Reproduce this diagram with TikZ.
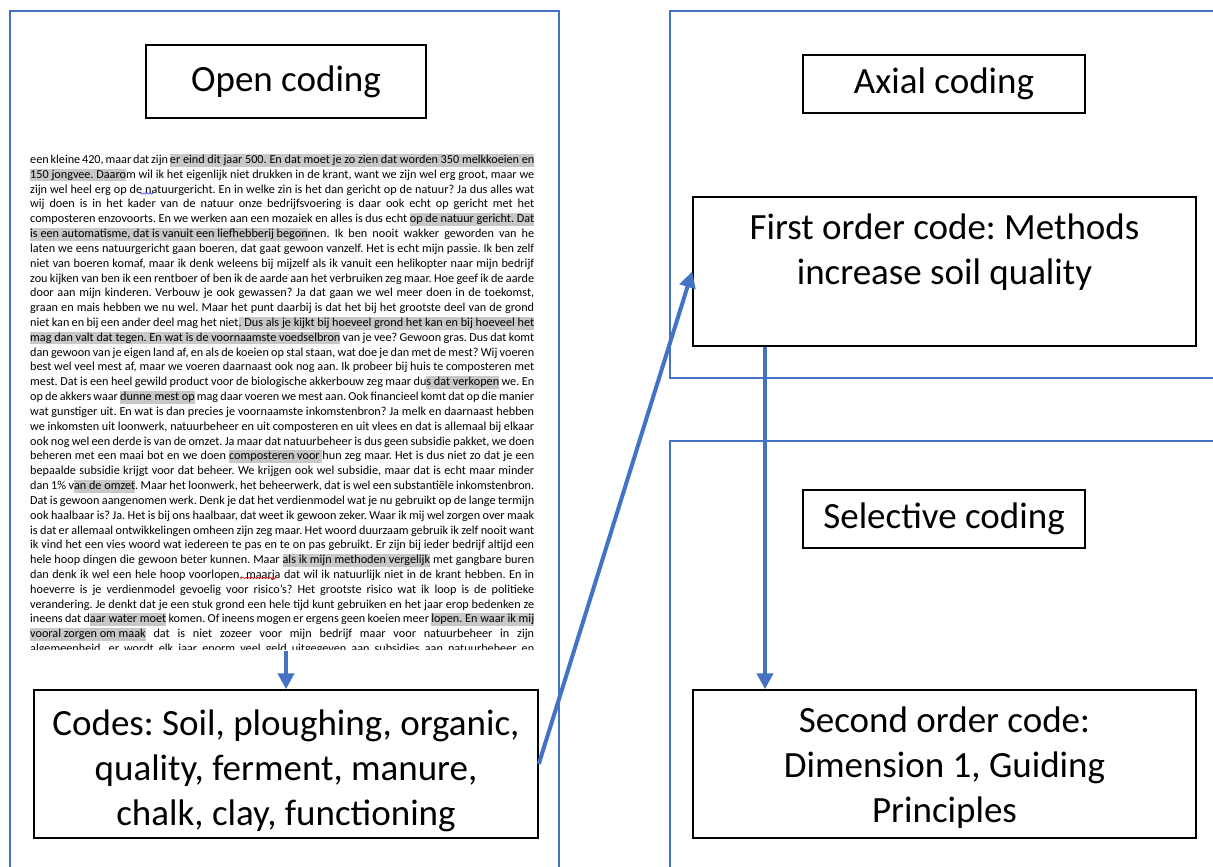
\documentclass[tikz,border=0pt]{standalone}
\usepackage{fontspec}
\setmainfont{Carlito}
\usetikzlibrary{arrows.meta,decorations.pathmorphing}
\definecolor{pblue}{RGB}{68,114,196}
\definecolor{hlgray}{RGB}{200,200,200}
\frenchspacing
\newcommand{\hlt}[1]{{\setlength{\fboxsep}{0pt}\colorbox{hlgray}{\rule[-3pt]{0pt}{12.5pt}#1}}}
\newcommand{\bigfont}{\fontsize{37}{45}\selectfont}
\newcommand{\smallfont}{\fontsize{12.2}{14}\selectfont}
\newcommand{\tline}[2]{\node[txtline] (l#1) at (30,{163.5+(#1-1)*14.82}) {\makebox[504pt][s]{#2}};}
\begin{document}
\begin{tikzpicture}[x=1pt,y=-1pt,
  box/.style={draw=black, line width=1.5pt, fill=white, inner sep=0pt, align=center, font=\bigfont},
  lbl/.style={inner sep=0pt, align=center, font=\bigfont},
  panel/.style={draw=pblue, line width=1.8pt},
  arr/.style={draw=pblue, line width=4pt, -{Triangle[length=16pt,width=16pt]}},
  txtline/.style={anchor=base west, inner sep=0pt, font=\smallfont},
  squig/.style={line width=0.6pt, decorate, decoration={snake, amplitude=0.7pt, segment length=3pt}}]
\useasboundingbox (0,0) rectangle (1213,867);
\clip (0,0) rectangle (1213,867);
\fill[white] (0,0) rectangle (1213,867);
% panels
\draw[panel] (10,11) rectangle (559,900);
\draw[panel] (670,11) rectangle (1240,378);
\draw[panel] (670,441) rectangle (1240,900);
% title boxes
\node[box, minimum width=280pt, minimum height=73pt] (open) at (286,81.5) {Open coding};
\node[box, minimum width=282pt, minimum height=58pt] (axial) at (944,84) {Axial coding};
\node[box, minimum width=282pt, minimum height=58pt] (selective) at (944,519) {Selective coding};
% code boxes
\node[box, minimum width=503pt, minimum height=149pt] (first) at (944.5,271.5) {};
\node[lbl, anchor=north] (firsttxt) at (944.5,214) {First order code: Methods\\increase soil quality};
\node[box, minimum width=503pt, minimum height=148pt] (second) at (944.5,764) {};
\node[lbl, anchor=north] (secondtxt) at (944.5,707) {Second order code:\\Dimension 1, Guiding\\Principles};
\node[box, minimum width=504pt, minimum height=148pt] (codes) at (286,764) {};
\node[lbl, anchor=north] (codestxt) at (286,710) {Codes: Soil, ploughing, organic,\\quality, ferment, manure,\\chalk, clay, functioning};
% transcript
\begin{scope}
\clip (26,150) rectangle (540,649.5);
\tline{1}{een kleine 420, maar dat zijn \hlt{er eind dit jaar 500. En dat moet je zo zien dat worden 350 melkkoeien en}}
\tline{2}{\hlt{150 jongvee. Daaro}m wil ik het eigenlijk niet drukken in de krant, want we zijn wel erg groot, maar we}
\tline{3}{zijn wel heel erg op de natuurgericht. En in welke zin is het dan gericht op de natuur? Ja dus alles wat}
\tline{4}{wij doen is in het kader van de natuur onze bedrijfsvoering is daar ook echt op gericht met het}
\tline{5}{composteren enzovoorts. En we werken aan een mozaiek en alles is dus echt \hlt{op de natuur gericht. Dat}}
\tline{6}{\hlt{is een automatisme, dat is vanuit een liefhebberij begon}nen. Ik ben nooit wakker geworden van he}
\tline{7}{laten we eens natuurgericht gaan boeren, dat gaat gewoon vanzelf. Het is echt mijn passie. Ik ben zelf}
\tline{8}{niet van boeren komaf, maar ik denk weleens bij mijzelf als ik vanuit een helikopter naar mijn bedrijf}
\tline{9}{zou kijken van ben ik een rentboer of ben ik de aarde aan het verbruiken zeg maar. Hoe geef ik de aarde}
\tline{10}{door aan mijn kinderen. Verbouw je ook gewassen? Ja dat gaan we wel meer doen in de toekomst,}
\tline{11}{graan en mais hebben we nu wel. Maar het punt daarbij is dat het bij het grootste deel van de grond}
\tline{12}{niet kan en bij een ander deel mag het niet\hlt{. Dus als je kijkt bij hoeveel grond het kan en bij hoeveel het}}
\tline{13}{\hlt{mag dan valt dat tegen. En wat is de voornaamste voedselbron} van je vee? Gewoon gras. Dus dat komt}
\tline{14}{dan gewoon van je eigen land af, en als de koeien op stal staan, wat doe je dan met de mest? Wij voeren}
\tline{15}{best wel veel mest af, maar we voeren daarnaast ook nog aan. Ik probeer bij huis te composteren met}
\tline{16}{mest. Dat is een heel gewild product voor de biologische akkerbouw zeg maar du\hlt{s dat verkopen} we. En}
\tline{17}{op de akkers waar \hlt{dunne mest op} mag daar voeren we mest aan. Ook financieel komt dat op die manier}
\tline{18}{wat gunstiger uit. En wat is dan precies je voornaamste inkomstenbron? Ja melk en daarnaast hebben}
\tline{19}{we inkomsten uit loonwerk, natuurbeheer en uit composteren en uit vlees en dat is allemaal bij elkaar}
\tline{20}{ook nog wel een derde is van de omzet. Ja maar dat natuurbeheer is dus geen subsidie pakket, we doen}
\tline{21}{beheren met een maai bot en we doen \hlt{composteren voor }hun zeg maar. Het is dus niet zo dat je een}
\tline{22}{bepaalde subsidie krijgt voor dat beheer. We krijgen ook wel subsidie, maar dat is echt maar minder}
\tline{23}{dan 1\% v\hlt{an de omzet}. Maar het loonwerk, het beheerwerk, dat is wel een substantiële inkomstenbron.}
\tline{24}{Dat is gewoon aangenomen werk. Denk je dat het verdienmodel wat je nu gebruikt op de lange termijn}
\tline{25}{ook haalbaar is? Ja. Het is bij ons haalbaar, dat weet ik gewoon zeker. Waar ik mij wel zorgen over maak}
\tline{26}{is dat er allemaal ontwikkelingen omheen zijn zeg maar. Het woord duurzaam gebruik ik zelf nooit want}
\tline{27}{ik vind het een vies woord wat iedereen te pas en te on pas gebruikt. Er zijn bij ieder bedrijf altijd een}
\tline{28}{hele hoop dingen die gewoon beter kunnen. Maar \hlt{als ik mijn methoden vergelijk} met gangbare buren}
\tline{29}{dan denk ik wel een hele hoop voorlopen, maarja dat wil ik natuurlijk niet in de krant hebben. En in}
\tline{30}{hoeverre is je verdienmodel gevoelig voor risico’s? Het grootste risico wat ik loop is de politieke}
\tline{31}{verandering. Je denkt dat je een stuk grond een hele tijd kunt gebruiken en het jaar erop bedenken ze}
\tline{32}{ineens dat d\hlt{aar water moet} komen. Of ineens mogen er ergens geen koeien meer \hlt{lopen. En waar ik mij}}
\tline{33}{\hlt{vooral zorgen om maak} dat is niet zozeer voor mijn bedrijf maar voor natuurbeheer in zijn}
\tline{34}{algemeenheid, er wordt elk jaar enorm veel geld uitgegeven aan subsidies aan natuurbeheer en}
\end{scope}
% spell-check squiggles
\draw[squig, draw=blue!75] (140,193.5) -- (153,193.5);
\draw[squig, draw=red] (242,578) -- (277,578);
% connectors
\coordinate (tb) at (285,651);
\draw[arr] (codes.north |- tb) -- (codes.north);
\draw[arr] (codes.east) -- (first.west);
\coordinate (vx) at (765,0);
\draw[arr] (first.south -| vx) -- (second.north -| vx);
\end{tikzpicture}
\end{document}
